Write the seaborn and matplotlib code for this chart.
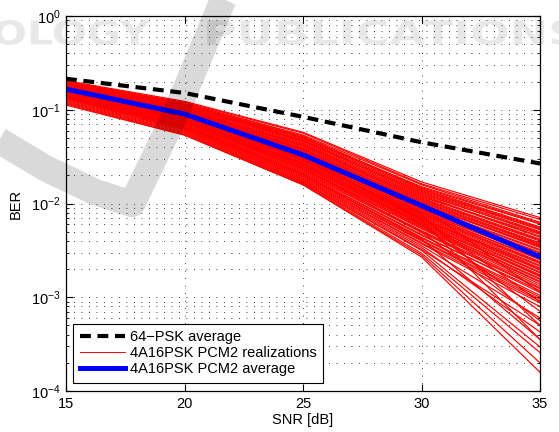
import numpy as np
import pandas as pd
import matplotlib
matplotlib.use("Agg")
import matplotlib.pyplot as plt
import seaborn as sns
from matplotlib.lines import Line2D
from matplotlib.textpath import TextPath
from matplotlib.patches import PathPatch
from matplotlib.font_manager import FontProperties
from matplotlib.transforms import Affine2D, IdentityTransform
from matplotlib.ticker import LogLocator, NullFormatter

# ---------------- data ----------------
snr = [15, 20, 25, 30, 35]
psk64_avg = [0.214, 0.151, 0.084, 0.045, 0.0267]
pcm2_avg = [0.166, 0.090, 0.033, 0.0095, 0.0027]

# log10(BER) of the individual 4A16PSK PCM2 realizations at snr points
pcm2_realizations_log10 = [
    [-0.69, -0.91, -1.24, -1.77, -2.15],
    [-0.70, -0.92, -1.25, -1.79, -2.17],
    [-0.70, -0.93, -1.27, -1.80, -2.20],
    [-0.71, -0.93, -1.28, -1.83, -2.22],
    [-0.71, -0.94, -1.30, -1.84, -2.25],
    [-0.72, -0.95, -1.31, -1.86, -2.27],
    [-0.72, -0.96, -1.32, -1.88, -2.30],
    [-0.73, -0.96, -1.34, -1.89, -2.32],
    [-0.73, -0.97, -1.35, -1.91, -2.35],
    [-0.74, -0.98, -1.36, -1.93, -2.33],
    [-0.74, -0.98, -1.38, -1.94, -2.38],
    [-0.75, -0.99, -1.39, -1.96, -2.40],
    [-0.75, -1.00, -1.40, -1.97, -2.42],
    [-0.76, -1.01, -1.41, -1.99, -2.44],
    [-0.76, -1.01, -1.43, -2.01, -2.47],
    [-0.77, -1.02, -1.44, -2.02, -2.45],
    [-0.77, -1.03, -1.45, -2.04, -2.50],
    [-0.78, -1.04, -1.46, -2.05, -2.52],
    [-0.78, -1.04, -1.47, -2.07, -2.55],
    [-0.79, -1.05, -1.49, -2.08, -2.57],
    [-0.79, -1.06, -1.50, -2.10, -2.59],
    [-0.80, -1.06, -1.51, -2.11, -2.62],
    [-0.80, -1.07, -1.52, -2.13, -2.64],
    [-0.80, -1.08, -1.53, -2.14, -2.66],
    [-0.81, -1.08, -1.55, -2.15, -2.69],
    [-0.81, -1.09, -1.56, -2.17, -2.71],
    [-0.82, -1.10, -1.57, -2.18, -2.73],
    [-0.82, -1.11, -1.58, -2.20, -2.76],
    [-0.83, -1.11, -1.59, -2.21, -2.78],
    [-0.83, -1.12, -1.61, -2.23, -2.80],
    [-0.84, -1.13, -1.62, -2.25, -2.83],
    [-0.84, -1.14, -1.63, -2.27, -2.86],
    [-0.85, -1.15, -1.65, -2.29, -2.88],
    [-0.85, -1.16, -1.66, -2.31, -2.91],
    [-0.86, -1.17, -1.68, -2.33, -2.95],
    [-0.86, -1.18, -1.70, -2.36, -2.98],
    [-0.87, -1.19, -1.72, -2.39, -3.02],
    [-0.87, -1.21, -1.74, -2.42, -3.06],
    [-0.89, -1.22, -1.76, -2.45, -3.22],
    [-0.90, -1.23, -1.77, -2.47, -3.37],
    [-0.92, -1.25, -1.78, -2.50, -3.53],
    [-0.93, -1.26, -1.79, -2.53, -3.59],
    [-0.94, -1.27, -1.80, -2.55, -3.70],
    [-0.95, -1.27, -1.80, -2.57, -3.80],
    [-0.80, -1.07, -1.53, -2.12, -3.30],
    [-0.83, -1.12, -1.60, -2.22, -3.15],
    [-0.78, -1.05, -1.50, -2.18, -3.45],
    [-0.82, -1.10, -1.63, -2.30, -3.25],
    [-0.70, -0.94, -1.29, -1.85, -2.26],
    [-0.72, -0.95, -1.33, -1.87, -2.28],
    [-0.73, -0.97, -1.33, -1.90, -2.31],
    [-0.74, -0.99, -1.37, -1.92, -2.36],
    [-0.75, -1.00, -1.38, -1.95, -2.39],
    [-0.76, -1.00, -1.42, -1.98, -2.43],
    [-0.77, -1.02, -1.42, -2.00, -2.46],
    [-0.77, -1.03, -1.46, -2.03, -2.49],
    [-0.78, -1.03, -1.48, -2.06, -2.53],
    [-0.79, -1.05, -1.48, -2.09, -2.56],
    [-0.79, -1.06, -1.51, -2.10, -2.60],
    [-0.80, -1.07, -1.54, -2.12, -2.63],
    [-0.81, -1.08, -1.54, -2.16, -2.67],
    [-0.81, -1.09, -1.57, -2.16, -2.70],
    [-0.82, -1.10, -1.58, -2.19, -2.74],
    [-0.83, -1.12, -1.60, -2.22, -2.77],
    [-0.84, -1.13, -1.63, -2.24, -2.81],
    [-0.84, -1.14, -1.64, -2.26, -2.84],
    [-0.85, -1.16, -1.67, -2.30, -2.90],
    [-0.86, -1.17, -1.69, -2.34, -2.93],
    [-0.87, -1.19, -1.71, -2.37, -3.00],
    [-0.88, -1.20, -1.73, -2.40, -3.04],
    [-0.88, -1.21, -1.75, -2.43, -3.10],
    [-0.76, -1.02, -1.44, -2.03, -2.95],
    [-0.79, -1.06, -1.52, -2.15, -3.05],
    [-0.86, -1.18, -1.69, -2.38, -3.45],
    [-0.91, -1.24, -1.78, -2.49, -3.30],
    [-0.71, -0.95, -1.30, -1.82, -2.21],
]

x_ticks = [15, 20, 25, 30, 35]
labels = ["64\u2212PSK average", "4A16PSK PCM2 realizations", "4A16PSK PCM2 average"]

# ---------------- build tables ----------------
rows = []
for run, vals in enumerate(pcm2_realizations_log10):
    for s, v in zip(snr, vals):
        rows.append({"snr": s, "ber": 10.0 ** v, "run": run})
df_real = pd.DataFrame(rows)
df_psk = pd.DataFrame({"snr": snr, "ber": psk64_avg})
df_avg = pd.DataFrame({"snr": snr, "ber": pcm2_avg})

plt.rcParams["font.family"] = ["Liberation Sans", "DejaVu Sans"]
plt.rcParams["mathtext.fontset"] = "custom"
plt.rcParams["mathtext.rm"] = "Liberation Sans"
plt.rcParams["mathtext.it"] = "Liberation Sans"
plt.rcParams["mathtext.default"] = "regular"

W, H = 559, 432
fig = plt.figure(figsize=(W / 100, H / 100), dpi=100)
fig.patch.set_facecolor("white")
ax = fig.add_axes([66 / W, 1 - 391 / H, (540 - 66) / W, (391 - 16) / H])

dash = (0, (2.6, 1.6))
sns.lineplot(data=df_real, x="snr", y="ber", units="run", estimator=None,
             color="red", lw=0.85, ax=ax, legend=False)
sns.lineplot(data=df_psk, x="snr", y="ber", color="black", lw=3.0,
             ax=ax, legend=False, linestyle=dash)
sns.lineplot(data=df_avg, x="snr", y="ber", color="#0000ff", lw=3.6,
             ax=ax, legend=False)

ax.set_yscale("log")
ax.set_xlim(15, 35)
ax.set_ylim(1e-4, 1)
ax.set_xticks(x_ticks)
ax.set_xticklabels([str(t) for t in x_ticks])
ax.yaxis.set_major_locator(LogLocator(base=10, numticks=10))
ax.yaxis.set_minor_locator(LogLocator(base=10, subs=np.arange(2, 10), numticks=20))
ax.yaxis.set_minor_formatter(NullFormatter())

grid_style = dict(color="black", linestyle=(0, (1, 8)), linewidth=0.6)
ax.grid(True, which="major", axis="both", **grid_style)
ax.grid(True, which="minor", axis="y", **grid_style)
ax.set_axisbelow(True)

ax.tick_params(which="both", direction="in", top=True, right=True,
               labelsize=10.5, pad=4, colors="black")
ax.tick_params(which="major", length=5, width=0.8)
ax.tick_params(which="minor", length=2.5, width=0.6)
for sp in ax.spines.values():
    sp.set_linewidth(0.9)
    sp.set_color("black")

ax.set_xlabel("SNR [dB]", fontsize=10.5, labelpad=2)
ax.set_ylabel("BER", fontsize=10.5, labelpad=6)

handles = [
    Line2D([], [], color="black", lw=3.0, linestyle=dash),
    Line2D([], [], color="red", lw=0.7),
    Line2D([], [], color="#0000ff", lw=3.6),
]
leg = ax.legend(handles, labels, loc="lower left",
                bbox_to_anchor=(7 / 474, 8 / 375), borderaxespad=0,
                fontsize=10.5, frameon=True, fancybox=False, framealpha=1,
                edgecolor="black", handlelength=3.1, handletextpad=0.35,
                labelspacing=0.15, borderpad=0.45)
leg.get_frame().set_linewidth(0.8)

# ---------------- faint watermark (publisher logo) ----------------
fp = FontProperties(family="DejaVu Sans", weight="bold")
def add_word(text, x0, x1, ytop, ybot):
    tp = TextPath((0, 0), text, size=1, prop=fp)
    ext = tp.get_extents()
    sx = (x1 - x0) / ext.width
    sy = (ybot - ytop) / ext.height
    tr = Affine2D().translate(-ext.x0, -ext.y0).scale(sx, sy).translate(x0, H - ybot)
    fig.add_artist(PathPatch(tp, transform=tr, facecolor="black", edgecolor="none",
                             alpha=0.09, zorder=20))

add_word("OLOGY", -6, 150, 20, 45)
add_word("PUBLICATIONS", 207, 578, 20, 45)

sx_pts = [-5, 45, 95, 132, 175, 223, 230]
sy_pts = [138, 168, 192, 204, 115, 0, -15]
fig.add_artist(Line2D(sx_pts, [H - v for v in sy_pts], transform=IdentityTransform(),
                      color="black", alpha=0.15, lw=19, solid_joinstyle="round",
                      solid_capstyle="butt", zorder=19))

fig.savefig("out.png", dpi=100, facecolor="white")
